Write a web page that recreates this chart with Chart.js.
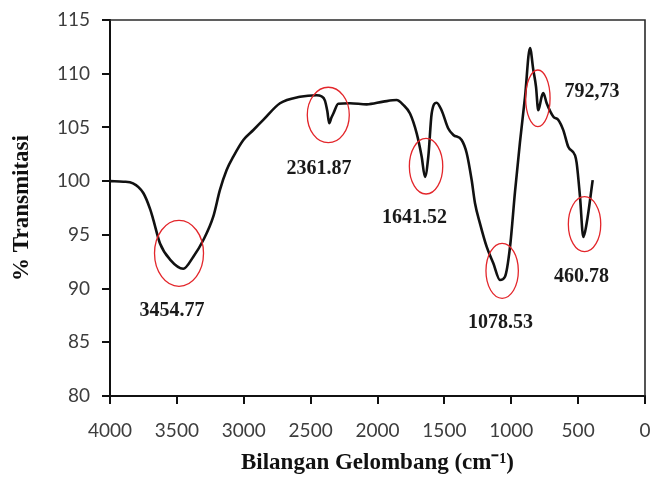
<!DOCTYPE html>
<html>
<head>
<meta charset="utf-8">
<script src="https://cdn.jsdelivr.net/npm/chart.js@4"></script>
<style>
  html, body { margin: 0; padding: 0; background: #fff; }
  #wrap { width: 652px; height: 477px; }
</style>
</head>
<body>
<div id="wrap"><canvas id="c" width="652" height="477"></canvas></div>
<script>
// ---- data ----
const wavenumbers = [4000, 3900, 3828, 3751, 3700, 3676, 3626, 3551, 3452, 3377, 3302, 3228, 3178, 3128, 3078, 3003, 2928, 2854, 2729, 2579, 2455, 2420, 2393, 2375, 2361, 2345, 2330, 2293, 2206, 2081, 1957, 1857, 1807, 1757, 1707, 1670, 1645, 1620, 1595, 1558, 1521, 1471, 1433, 1371, 1333, 1296, 1271, 1234, 1184, 1134, 1084, 1047, 1009, 972, 935, 897, 860, 835, 815, 798, 773, 760, 735, 685, 648, 611, 574, 523, 511, 486, 461, 436, 391];
const transmittance = [100.0, 99.95, 99.8, 98.9, 97.4, 96.4, 94.2, 92.7, 91.85, 92.97, 94.52, 96.69, 99.18, 101.04, 102.28, 103.83, 104.76, 105.7, 107.25, 107.85, 108.0, 107.9, 107.5, 106.5, 105.4, 105.9, 106.3, 107.2, 107.25, 107.15, 107.4, 107.55, 107.1, 106.3, 104.45, 102.3, 100.4, 102.3, 106.3, 107.3, 106.6, 104.9, 104.3, 103.83, 102.6, 100.1, 97.94, 96.07, 93.9, 92.35, 90.8, 91.1, 93.9, 99.0, 103.6, 107.85, 112.4, 110.35, 108.8, 106.6, 107.85, 108.2, 107.25, 106.0, 105.7, 104.75, 103.2, 102.4, 101.7, 98.55, 94.8, 96.1, 100.1];
const peakLabels = ['3454.77', '2361.87', '1641.52', '1078.53', '792,73', '460.78'];
const xTicks = [4000, 3500, 3000, 2500, 2000, 1500, 1000, 500, 0];
const yTicks = [80, 85, 90, 95, 100, 105, 110, 115];

// ---- annotation layout (data coords for centers, pixel radii) ----
const ringLayout = [
  { cx: 3484, cy: 93.28, rx: 24.5, ry: 33,   lx: 3536, ly: 87.9 },
  { cx: 2368, cy: 106.16, rx: 21,  ry: 27.7, lx: 2437, ly: 101.13 },
  { cx: 1637, cy: 101.39, rx: 16.7, ry: 27.8, lx: 1723, ly: 96.6 },
  { cx: 1068, cy: 91.65, rx: 16.2, ry: 27.5, lx: 1080, ly: 86.8 },
  { cx: 801,  cy: 107.71, rx: 12.2, ry: 28.3, lx: 396,  ly: 108.33 },
  { cx: 452,  cy: 95.99, rx: 16.2, ry: 27.5, lx: 475,  ly: 91.08 }
];

const points = wavenumbers.map((w, i) => ({ x: w, y: transmittance[i] }));

const decorPlugin = {
  id: 'decor',
  afterDatasetsDraw(chart) {
    const { ctx, chartArea: a, scales: { x, y } } = chart;
    ctx.save();
    // frame top + right
    ctx.strokeStyle = '#2b2b2b';
    ctx.lineWidth = 1.6;
    ctx.beginPath();
    ctx.moveTo(a.left, a.top);
    ctx.lineTo(a.right, a.top);
    ctx.lineTo(a.right, a.bottom);
    ctx.stroke();
    // rings
    ctx.strokeStyle = '#e3262b';
    ctx.lineWidth = 1.3;
    ringLayout.forEach(r => {
      ctx.beginPath();
      ctx.ellipse(x.getPixelForValue(r.cx), y.getPixelForValue(r.cy), r.rx, r.ry, 0, 0, Math.PI * 2);
      ctx.stroke();
    });
    // labels
    ctx.fillStyle = '#1a1a1a';
    ctx.font = 'bold 20px "Liberation Serif", "Times New Roman", serif';
    ctx.textAlign = 'center';
    ctx.textBaseline = 'middle';
    ringLayout.forEach((r, i) => {
      ctx.fillText(peakLabels[i], x.getPixelForValue(r.lx), y.getPixelForValue(r.ly));
    });
    ctx.restore();
  }
};

new Chart(document.getElementById('c'), {
  type: 'line',
  data: {
    datasets: [{
      data: points,
      borderColor: '#111',
      borderWidth: 2.6,
      pointRadius: 0,
      cubicInterpolationMode: 'monotone',
      fill: false
    }]
  },
  options: {
    responsive: false,
    animation: false,
    devicePixelRatio: 1,
    layout: { padding: { left: 0, right: 7, top: 20, bottom: 0 } },
    plugins: { legend: { display: false }, tooltip: { enabled: false } },
    scales: {
      x: {
        type: 'linear',
        reverse: true,
        min: 0,
        max: 4000,
        afterBuildTicks(s) { s.ticks = xTicks.map(v => ({ value: v })); },
        afterFit(s) { s.height = 81; s.paddingLeft = 0; s.paddingRight = 0; },
        grid: { drawOnChartArea: false, drawTicks: true, tickLength: 8, color: '#111', lineWidth: 2 },
        border: { display: true, color: '#111', width: 2 },
        ticks: { color: '#3d3d3d', padding: 15, maxRotation: 0, font: { family: 'Lato', size: 19 },
                 callback: v => String(v) },
        title: {
          display: true,
          text: 'Bilangan Gelombang (cm\u207B\u00B9)',
          color: '#111',
          padding: { top: 6, bottom: 0 },
          font: { family: '"Liberation Serif", "Times New Roman", serif', size: 23, weight: 'bold' }
        }
      },
      y: {
        type: 'linear',
        min: 80,
        max: 115,
        afterBuildTicks(s) { s.ticks = yTicks.map(v => ({ value: v })); },
        afterFit(s) { s.width = 110; s.paddingTop = 0; s.paddingBottom = 0; },
        grid: { drawOnChartArea: false, drawTicks: true, tickLength: 8, color: '#111', lineWidth: 2 },
        border: { display: true, color: '#111', width: 2 },
        ticks: { color: '#3d3d3d', padding: 12, font: { family: 'Lato', size: 19 },
                 callback: v => String(v) },
        title: {
          display: true,
          text: '% Transmitasi',
          color: '#111',
          padding: { top: 8, bottom: 0 },
          font: { family: '"Liberation Serif", "Times New Roman", serif', size: 23, weight: 'bold' }
        }
      }
    }
  },
  plugins: [decorPlugin]
});
</script>
</body>
</html>
